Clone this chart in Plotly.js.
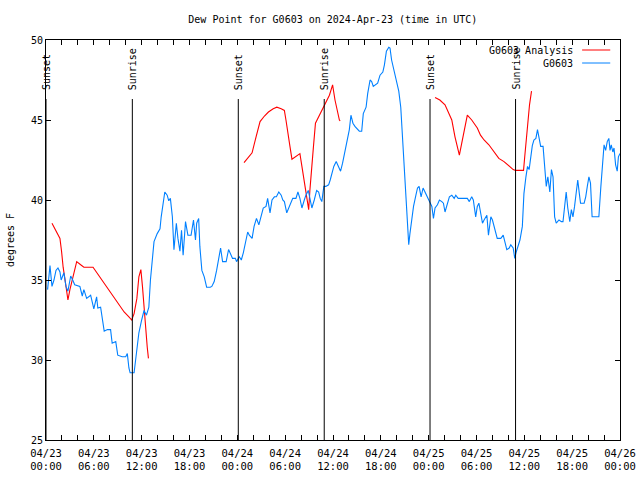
<!DOCTYPE html>
<html>
<head>
<meta charset="utf-8">
<script src="https://cdn.plot.ly/plotly-3.0.1.min.js"></script>
<style>html,body{margin:0;padding:0;background:#fff;}#chart{width:640px;height:480px;}</style>
</head>
<body>
<div id="chart"></div>
<script>
// Hours after 2024-04-23 00:00 UTC
const obsHours = [0.2,0.5,0.75,1.0,1.25,1.5,1.75,1.9,2.25,2.5,2.75,3.1,3.35,3.6,4.25,4.55,4.75,5.1,5.6,6.0,6.35,6.5,6.85,7.05,7.3,7.7,8.1,8.3,8.75,9.0,9.55,10.0,10.2,10.4,10.55,11.05,11.25,11.65,12.0,12.3,12.6,12.9,13.1,13.35,13.55,13.95,14.3,14.45,14.7,14.9,15.2,15.4,15.6,15.85,16.05,16.35,16.55,16.8,17.0,17.2,17.5,17.8,18.2,18.5,18.75,18.9,19.15,19.3,19.55,19.85,20.15,20.6,20.8,21.1,21.4,21.75,21.9,22.15,22.6,22.9,23.2,23.4,23.75,23.9,24.25,24.5,24.75,25.0,25.3,25.5,25.85,26.1,26.4,26.7,27.0,27.25,27.6,27.8,28.1,28.35,28.65,28.9,29.2,29.5,29.7,29.9,30.2,30.45,30.75,30.95,31.35,31.6,31.85,32.1,32.4,32.6,32.9,33.1,33.35,33.65,33.95,34.2,34.4,34.6,34.85,35.1,35.45,35.65,35.9,36.1,36.4,36.65,36.95,37.2,37.5,37.8,38.05,38.25,38.5,38.75,38.95,39.3,39.6,39.8,40.15,40.35,40.65,40.85,41.05,41.35,41.6,41.9,42.25,42.45,42.7,43.0,43.15,43.35,43.65,44.0,44.25,44.5,44.75,44.9,45.15,45.3,45.5,45.65,45.9,46.1,46.4,46.6,46.8,47.05,47.3,47.55,47.8,48.1,48.4,48.6,48.8,49.1,49.35,49.65,49.85,50.05,50.35,50.6,50.9,51.2,51.4,51.7,52.15,52.55,52.85,53.1,53.4,53.6,53.8,53.9,54.1,54.3,54.5,54.75,54.95,55.3,55.5,55.8,56.0,56.2,56.4,56.6,57.05,57.35,57.6,57.8,58.1,58.3,58.6,58.8,58.95,59.2,59.45,59.75,59.95,60.2,60.4,60.6,60.8,61.0,61.2,61.45,61.65,61.85,62.05,62.35,62.55,62.75,62.95,63.2,63.4,63.6,63.8,64.0,64.35,64.65,64.85,65.05,65.25,65.45,65.7,65.9,66.1,66.3,66.5,66.7,66.9,67.05,67.5,67.7,67.9,68.1,68.3,68.5,68.95,69.35,69.6,69.8,70.0,70.2,70.4,70.6,70.75,70.9,71.1,71.25,71.45,71.65,71.8,72.0];
const obsValues = [34.4,35.9,34.6,35.0,35.6,35.75,35.5,35.0,35.45,34.6,34.3,35.25,35.0,34.7,34.6,34.0,34.4,33.85,34.05,33.2,33.95,33.25,33.3,32.5,31.8,31.9,31.9,31.05,31.15,30.3,30.2,30.2,30.4,29.5,29.2,29.2,30.0,31.7,32.5,33.1,32.8,33.3,35.0,36.45,37.4,37.9,38.2,38.95,39.8,40.5,40.3,39.95,40.1,38.95,36.9,38.55,37.6,36.8,38.1,36.55,38.65,37.8,37.8,38.75,37.5,38.55,38.85,37.1,35.6,35.2,34.55,34.55,34.6,34.9,35.6,36.7,37.0,36.15,36.15,36.9,36.55,36.35,36.35,36.15,36.45,36.25,36.7,37.3,38.0,37.8,37.6,38.35,38.85,38.45,39.05,39.5,39.6,40.1,39.2,40.0,40.2,40.2,40.5,40.3,40.0,39.9,39.2,39.5,39.8,40.1,40.1,40.5,40.1,39.5,40.0,40.3,40.6,40.0,39.5,40.0,40.6,40.5,40.1,39.9,40.85,40.85,40.95,41.25,41.7,42.1,42.4,42.1,41.8,42.3,43.1,43.85,44.4,45.3,44.8,44.6,44.5,44.3,44.3,45.4,45.8,46.65,47.5,47.4,47.1,47.2,47.3,47.8,48.0,48.45,49.3,49.55,49.5,48.75,48.1,47.4,46.8,45.8,43.75,41.9,39.8,38.55,37.2,37.9,38.95,39.6,40.3,40.75,40.85,40.2,40.75,40.5,40.2,39.9,39.6,38.85,39.5,39.7,40.0,39.9,39.8,39.25,39.8,40.2,40.3,40.1,40.3,40.1,40.1,40.1,40.1,39.9,40.2,40.0,39.2,38.95,39.6,39.8,39.25,38.55,38.75,39.05,37.8,38.95,38.75,38.35,38.1,37.6,37.6,37.8,37.3,36.9,37.0,37.2,37.0,36.35,36.7,37.1,37.5,38.35,40.4,41.45,42.1,41.9,42.7,43.4,43.75,43.85,44.4,43.85,43.35,43.35,42.1,40.85,41.45,40.5,41.9,41.45,38.95,38.55,38.75,38.65,38.65,39.7,40.5,39.5,38.65,39.4,38.95,39.6,40.6,41.25,40.4,39.8,39.8,40.2,40.85,41.45,41.05,38.95,38.95,38.95,40.85,42.5,43.45,43.1,43.65,43.85,43.1,43.45,43.0,43.25,42.2,41.8,42.7,42.9];

const anaHours = [0.75,1.2,1.75,1.95,2.15,2.45,2.75,3.0,3.3,3.6,3.85,4.35,4.75,5.9,6.45,7.3,8.1,8.95,9.8,10.4,10.75,11.05,11.4,11.65,11.9,12.1,12.3,12.5,12.7,12.85,18.0,24.84,25.4,25.85,26.35,26.85,27.4,27.9,28.5,28.95,29.5,29.9,30.1,30.3,30.6,30.85,31.35,31.85,32.1,32.4,32.7,32.95,33.1,33.3,33.55,33.8,34.2,34.7,35.1,35.55,35.95,36.25,36.8,36.9,42.0,48.8,49.4,50.05,50.45,50.9,51.3,51.6,51.85,52.15,52.5,52.85,53.4,53.85,54.1,54.5,54.95,55.55,56.2,56.8,57.45,58.1,58.6,58.9,59.9,60.05,60.25,60.45,60.65,60.9];
const anaValues = [38.55,38.1,37.6,36.8,35.8,34.8,33.75,34.4,35.0,35.6,36.15,35.95,35.8,35.8,35.4,34.8,34.2,33.55,33.0,32.7,32.5,32.9,33.85,35.2,35.65,34.6,33.1,31.65,30.8,30.1,null,42.33,42.7,42.95,43.95,44.9,45.25,45.5,45.7,45.8,45.7,45.6,45.0,44.2,43.35,42.55,42.75,42.9,42.1,41.05,40.0,39.4,40.6,41.65,43.35,44.8,45.2,45.6,46.05,46.55,47.2,46.25,45.0,44.95,null,46.4,46.25,45.95,45.5,45.0,43.95,43.35,42.8,43.55,44.5,45.3,45.0,44.7,44.5,44.05,43.75,43.45,43.0,42.6,42.4,42.1,41.9,41.85,41.85,42.7,43.75,45.0,45.95,46.8];

const sunHours = [0.0, 10.83, 24.12, 34.9, 48.17, 58.9];
const sunLabels = ["Sunset", "Sunrise", "Sunset", "Sunrise", "Sunset", "Sunrise"];

const seriesNames = ["G0603 Analysis", "G0603"];
const seriesColors = ["#ff0000", "#0080ff"];

const BASE = Date.UTC(2024, 3, 23, 0, 0, 0);
function toDate(h) {
  return new Date(BASE + h * 3600000).toISOString().replace('T', ' ').slice(0, 19);
}

const FONT = "DejaVu Sans Mono, Liberation Mono, monospace";

const traces = [
  {x: anaHours.map(toDate), y: anaValues, type: 'scatter', mode: 'lines', name: seriesNames[0],
   line: {color: seriesColors[0], width: 1.1}, connectgaps: false, hoverinfo: 'skip'},
  {x: obsHours.map(toDate), y: obsValues, type: 'scatter', mode: 'lines', name: seriesNames[1],
   line: {color: seriesColors[1], width: 1.1}, hoverinfo: 'skip'}
];

const shapes = [];
const annotations = [];
sunHours.forEach((h, i) => {
  shapes.push({type: 'line', xref: 'x', yref: 'paper', x0: toDate(h), x1: toDate(h), y0: 0, y1: 0.8525,
    line: {color: '#000', width: 1}, layer: 'above'});
  annotations.push({xref: 'x', yref: 'paper', x: toDate(h), y: 0.87, text: sunLabels[i], textangle: -90,
    showarrow: false, xanchor: 'center', yanchor: 'bottom', font: {family: FONT, size: 10, color: '#000'}});
});

// custom legend (text left, sample line right)
const legY = [0.975, 0.9425];
seriesNames.forEach((n, i) => {
  annotations.push({xref: 'paper', yref: 'paper', x: 0.9216, y: legY[i], text: n, showarrow: false,
    xanchor: 'right', yanchor: 'middle', font: {family: FONT, size: 10, color: '#000'}});
  shapes.push({type: 'line', xref: 'paper', yref: 'paper', x0: 0.934, x1: 0.983, y0: legY[i], y1: legY[i],
    line: {color: seriesColors[i], width: 1}});
});

const layout = {
  width: 640, height: 480,
  margin: {l: 46, r: 20, t: 40, b: 40, pad: 0},
  paper_bgcolor: '#fff', plot_bgcolor: '#fff',
  showlegend: false,
  font: {family: FONT, size: 10, color: '#000'},
  title: {text: 'Dew Point for G0603 on 2024-Apr-23 (time in UTC)', x: 0.52, xanchor: 'center', y: 0.96, yanchor: 'middle',
    font: {family: FONT, size: 10, color: '#000'}},
  xaxis: {
    type: 'date', range: [toDate(0), toDate(72)],
    tickmode: 'linear', tick0: toDate(0), dtick: 6 * 3600000,
    tickformat: '%m/%d<br>%H:%M',
    ticks: 'inside', ticklen: 5, tickcolor: '#000', tickwidth: 1,
    ticklabelstandoff: 3,
    minor: {dtick: 2 * 3600000, ticks: 'inside', ticklen: 5, tickcolor: '#000', showgrid: false},
    showline: true, linecolor: '#000', linewidth: 1, mirror: 'ticks',
    showgrid: false, zeroline: false,
    tickfont: {family: FONT, size: 10.5, color: '#000'}
  },
  yaxis: {
    range: [25, 50], tickmode: 'linear', tick0: 25, dtick: 5,
    ticks: 'inside', ticklen: 5, tickcolor: '#000', tickwidth: 1,
    showline: true, linecolor: '#000', linewidth: 1, mirror: 'ticks',
    showgrid: false, zeroline: false,
    tickfont: {family: FONT, size: 10, color: '#000'},
    title: {text: 'degrees F', font: {family: FONT, size: 10, color: '#000'}, standoff: 14}
  },
  shapes: shapes,
  annotations: annotations
};

Plotly.newPlot('chart', traces, layout, {staticPlot: true, displayModeBar: false});
</script>
</body>
</html>
